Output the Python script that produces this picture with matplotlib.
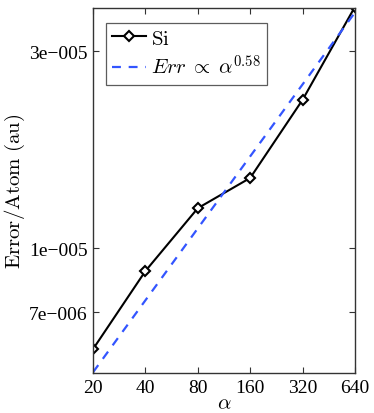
import numpy as np
import matplotlib
matplotlib.use('Agg')
import matplotlib.pyplot as plt
from matplotlib.ticker import FixedLocator, FixedFormatter, NullLocator

plt.rcParams['font.family'] = ['Liberation Serif', 'DejaVu Serif']
plt.rcParams['mathtext.fontset'] = 'cm'

# Dados
alpha = [20, 40, 80, 160, 320, 640]
erro_si = [5.69e-6, 8.8e-6, 1.25e-5, 1.48e-5, 2.29e-5, 3.85e-5]

# Reta de ajuste Err ~ alpha^0.58 (extremos)
ajuste_x = [20, 640]
ajuste_y = [5.0e-6, 3.73e-5]

x_ticks = [20, 40, 80, 160, 320, 640]
y_ticks = [7e-6, 1e-5, 3e-5]
y_tick_labels = ['7e\u2212006', '1e\u2212005', '3e\u2212005']

fig = plt.figure(figsize=(3.74, 4.14), dpi=100)
ax = fig.add_axes([0.2487, 0.0966, 0.7005, 0.8814])

ax.plot(alpha, erro_si, color='black', lw=1.5, marker='D', ms=5.5,
        mfc='white', mec='black', mew=1.5, label=r'$\mathrm{Si}$')
ax.plot(ajuste_x, ajuste_y, color='#3355ff', lw=1.6, ls=(0, (4, 3.5)),
        label=r'$Err\;\propto\;\alpha^{0.58}$')

ax.set_xscale('log')
ax.set_yscale('log')
ax.set_xlim(20, 640)
ax.set_ylim(4.98e-6, 3.82e-5)

ax.xaxis.set_major_locator(FixedLocator(x_ticks))
ax.xaxis.set_major_formatter(FixedFormatter([str(v) for v in x_ticks]))
ax.xaxis.set_minor_locator(NullLocator())
ax.yaxis.set_major_locator(FixedLocator(y_ticks))
ax.yaxis.set_major_formatter(FixedFormatter(y_tick_labels))
ax.yaxis.set_minor_locator(NullLocator())

ax.tick_params(direction='in', top=True, right=True, length=4, width=0.8,
               labelsize=14, colors='#333333', labelcolor='black', pad=4)
for s in ax.spines.values():
    s.set_color('#333333')
    s.set_linewidth(1.0)

ax.set_xlabel(r'$\alpha$', fontsize=15, labelpad=-1)
ax.set_ylabel(r'$\mathrm{Error/Atom\ (au)}$', fontsize=15, labelpad=1)

leg = ax.legend(loc='upper left', fontsize=15, frameon=True, fancybox=False,
                edgecolor='#333333', handlelength=1.6, handletextpad=0.25,
                borderpad=0.3, borderaxespad=0,
                bbox_to_anchor=(0.05, 0.96), labelspacing=0.3)
leg.get_frame().set_linewidth(0.9)

plt.savefig('out.png', dpi=100)
